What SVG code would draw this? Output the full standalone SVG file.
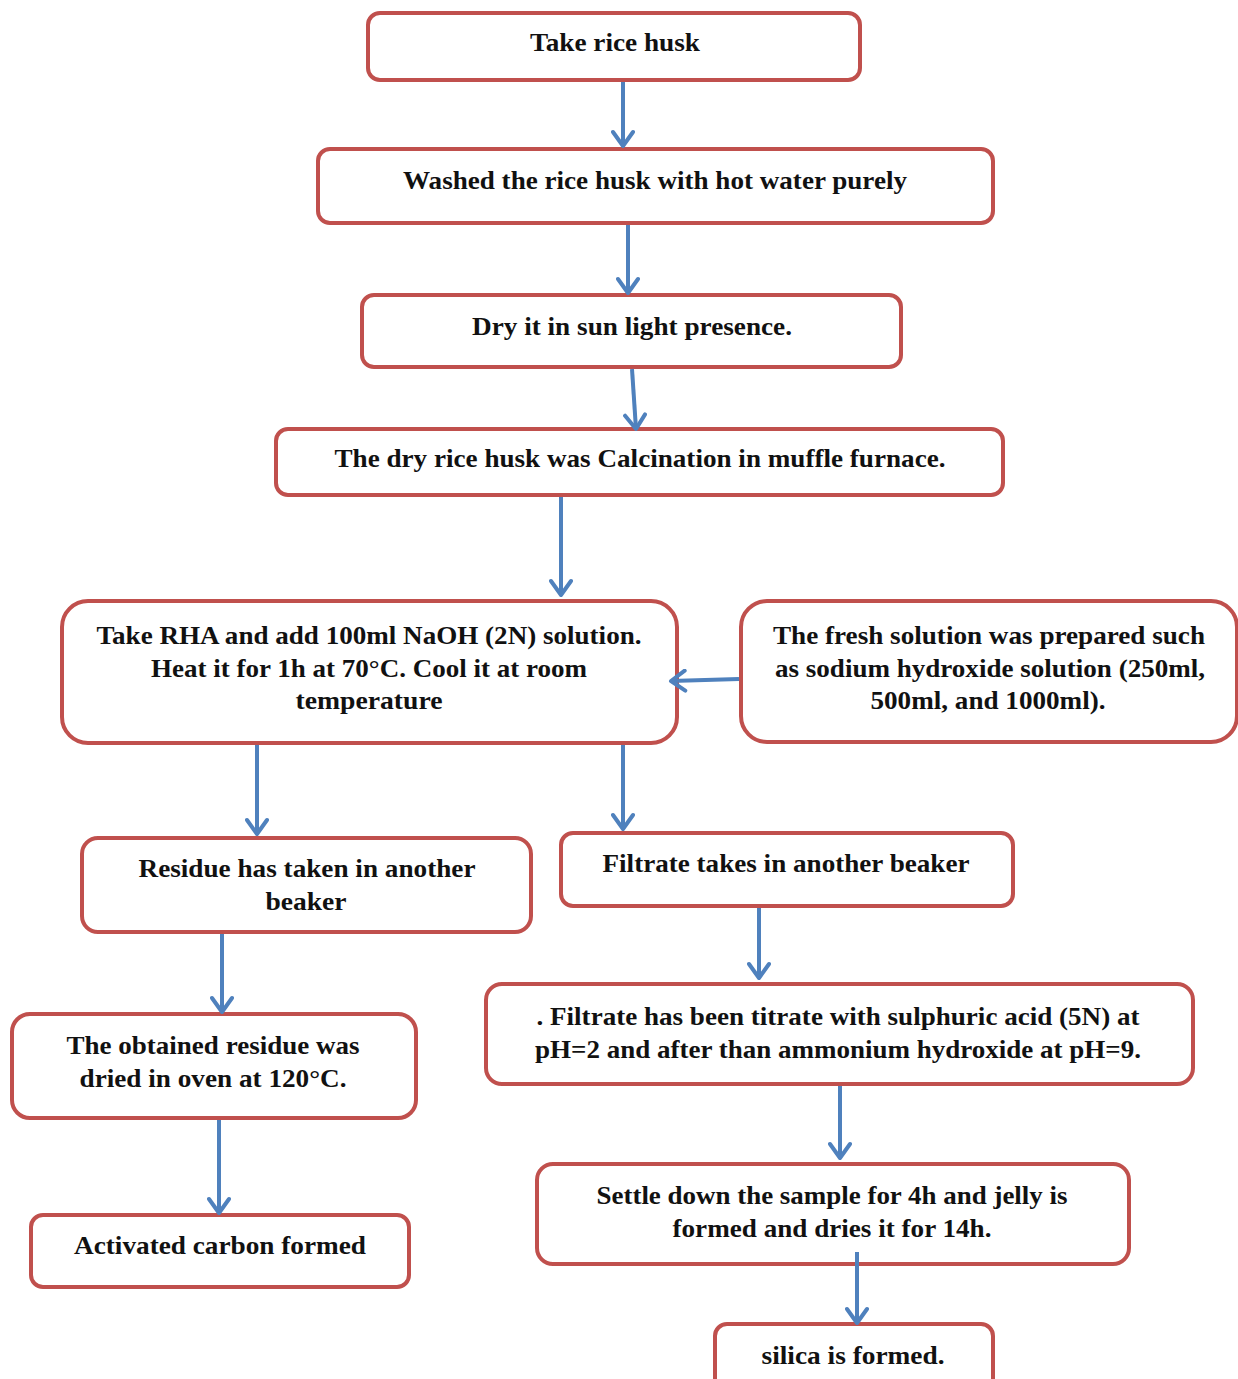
<svg xmlns="http://www.w3.org/2000/svg" width="1238" height="1379" viewBox="0 0 1238 1379">
<style>
.box{fill:#fff;stroke:#c0504d;stroke-width:4}
.t{font-family:"Liberation Serif","Times New Roman",serif;font-weight:bold;font-size:26px;fill:#111;text-anchor:middle}
.c{stroke:#4f81bd;stroke-width:4;fill:none;marker-end:url(#ah)}
</style>
<defs>
<marker id="ah" viewBox="0 0 20 24" refX="17" refY="12" markerWidth="20" markerHeight="24" markerUnits="userSpaceOnUse" orient="auto">
<path d="M3,2 L17,12 L3,22" fill="none" stroke="#4f81bd" stroke-width="4" stroke-linecap="round" stroke-linejoin="round"/>
</marker>
</defs>
<rect width="1238" height="1379" fill="#fff"/>
<g id="n1"><rect class="box" x="368" y="13" width="492" height="67" rx="12"/>
<text class="t" x="615" y="51" textLength="170" lengthAdjust="spacingAndGlyphs">Take rice husk</text></g>
<g id="n2"><rect class="box" x="318" y="149" width="675" height="74" rx="12"/>
<text class="t" x="655" y="189" textLength="504" lengthAdjust="spacingAndGlyphs">Washed the rice husk with hot water purely</text></g>
<g id="n3"><rect class="box" x="362" y="295" width="539" height="72" rx="12"/>
<text class="t" x="632" y="335" textLength="320" lengthAdjust="spacingAndGlyphs">Dry it in sun light presence.</text></g>
<g id="n4"><rect class="box" x="276" y="429" width="727" height="66" rx="12"/>
<text class="t" x="640" y="467" textLength="611" lengthAdjust="spacingAndGlyphs">The dry rice husk was Calcination in muffle furnace.</text></g>
<g id="n5"><rect class="box" x="62" y="601" width="615" height="142" rx="26"/>
<text class="t" x="369" y="644" textLength="545" lengthAdjust="spacingAndGlyphs">Take RHA and add 100ml NaOH (2N) solution.</text>
<text class="t" x="369" y="677" textLength="436" lengthAdjust="spacingAndGlyphs">Heat it for 1h at 70°C. Cool it at room</text>
<text class="t" x="369" y="709" textLength="147" lengthAdjust="spacingAndGlyphs">temperature</text></g>
<g id="n6"><rect class="box" x="741" y="601" width="496" height="141" rx="26"/>
<text class="t" x="989" y="644" textLength="432" lengthAdjust="spacingAndGlyphs">The fresh solution was prepared such</text>
<text class="t" x="990" y="677" textLength="430" lengthAdjust="spacingAndGlyphs">as sodium hydroxide solution (250ml,</text>
<text class="t" x="988" y="709" textLength="235" lengthAdjust="spacingAndGlyphs">500ml, and 1000ml).</text></g>
<g id="n7"><rect class="box" x="82" y="838" width="449" height="94" rx="16"/>
<text class="t" x="307" y="877" textLength="337" lengthAdjust="spacingAndGlyphs">Residue has taken in another</text>
<text class="t" x="306" y="910" textLength="81" lengthAdjust="spacingAndGlyphs">beaker</text></g>
<g id="n8"><rect class="box" x="561" y="833" width="452" height="73" rx="12"/>
<text class="t" x="786" y="872" textLength="367" lengthAdjust="spacingAndGlyphs">Filtrate takes in another beaker</text></g>
<g id="n9"><rect class="box" x="12" y="1014" width="404" height="104" rx="18"/>
<text class="t" x="213" y="1054" textLength="293" lengthAdjust="spacingAndGlyphs">The obtained residue was</text>
<text class="t" x="213" y="1087" textLength="267" lengthAdjust="spacingAndGlyphs">dried in oven at 120°C.</text></g>
<g id="n10"><rect class="box" x="486" y="984" width="707" height="100" rx="16"/>
<text class="t" x="838" y="1025" textLength="603" lengthAdjust="spacingAndGlyphs">. Filtrate has been titrate with sulphuric acid (5N) at</text>
<text class="t" x="838" y="1058" textLength="606" lengthAdjust="spacingAndGlyphs">pH=2 and after than ammonium hydroxide at pH=9.</text></g>
<g id="n11"><rect class="box" x="31" y="1215" width="378" height="72" rx="12"/>
<text class="t" x="220" y="1254" textLength="292" lengthAdjust="spacingAndGlyphs">Activated carbon formed</text></g>
<g id="n12"><rect class="box" x="537" y="1164" width="592" height="100" rx="16"/>
<text class="t" x="832" y="1204" textLength="471" lengthAdjust="spacingAndGlyphs">Settle down the sample for 4h and jelly is</text>
<text class="t" x="832" y="1237" textLength="319" lengthAdjust="spacingAndGlyphs">formed and dries it for 14h.</text></g>
<g id="n13"><rect class="box" x="715" y="1324" width="278" height="70" rx="12"/>
<text class="t" x="853" y="1364" textLength="183" lengthAdjust="spacingAndGlyphs">silica is formed.</text></g>
<g id="connectors">
<line class="c" x1="623" y1="82" x2="623" y2="146"/>
<line class="c" x1="628" y1="225" x2="628" y2="293"/>
<line class="c" x1="632" y1="369" x2="636" y2="429"/>
<line class="c" x1="561" y1="497" x2="561" y2="595"/>
<line class="c" x1="739" y1="679" x2="671" y2="681"/>
<line class="c" x1="257" y1="745" x2="257" y2="834"/>
<line class="c" x1="623" y1="745" x2="623" y2="829"/>
<line class="c" x1="222" y1="934" x2="222" y2="1012"/>
<line class="c" x1="759" y1="908" x2="759" y2="978"/>
<line class="c" x1="219" y1="1120" x2="219" y2="1213"/>
<line class="c" x1="840" y1="1086" x2="840" y2="1158"/>
<line class="c" x1="857" y1="1252" x2="857" y2="1323"/>
</g>
</svg>
